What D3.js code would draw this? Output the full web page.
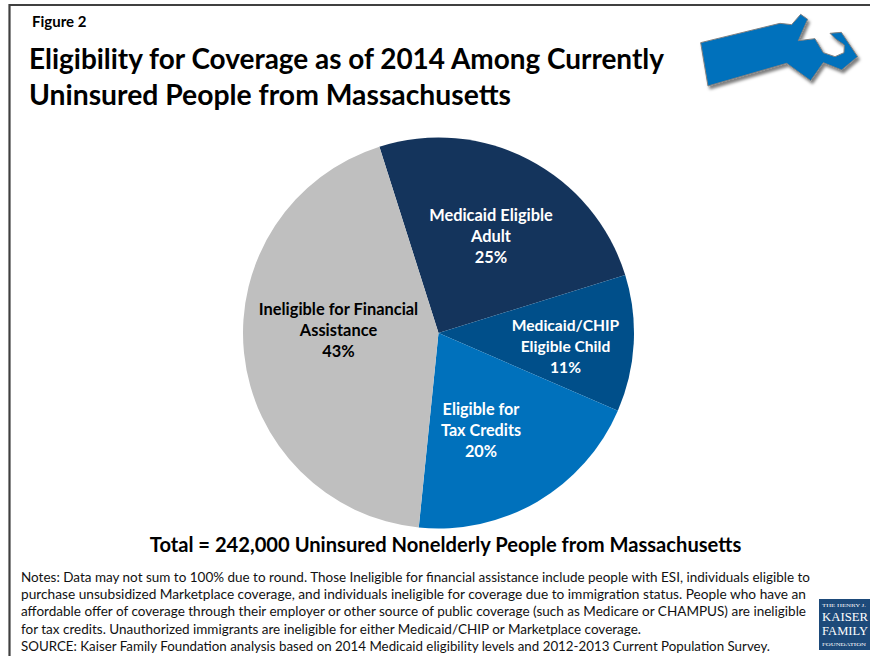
<!DOCTYPE html>
<html>
<head>
<meta charset="utf-8">
<script src="https://cdnjs.cloudflare.com/ajax/libs/d3/7.8.5/d3.min.js"></script>
<style>
  html, body { margin: 0; padding: 0; background: #fff; }
  svg { display: block; }
  text { font-family: Lato, "Open Sans", sans-serif; }
</style>
</head>
<body>
<script>
// values (printed labels are rounded)
var categories = ["Medicaid Eligible Adult", "Medicaid/CHIP Eligible Child", "Eligible for Tax Credits", "Ineligible for Financial Assistance"];
var values = [25.1, 11.3, 20.1, 43.5];
var printed = ["25%", "11%", "20%", "43%"];
var colors = ["#14345c", "#004f8a", "#0071bc", "#bfbfbf"];
var labelLines = [
  ["Medicaid Eligible", "Adult", "25%"],
  ["Medicaid/CHIP", "Eligible Child", "11%"],
  ["Eligible for", "Tax Credits", "20%"],
  ["Ineligible for Financial", "Assistance", "43%"]
];
var labelColors = ["#fff", "#fff", "#fff", "#000"];
var labelPos = [[491, 214.5], [565.5, 325], [481, 409], [338.5, 309]];
var labelSizes = [16.4, 15.6, 16.2, 16.4];
var titleLines = ["Eligibility for Coverage as of 2014 Among Currently", "Uninsured People from Massachusetts"];
var titleWidths = [635, 482];
var noteLines = [
  "Notes: Data may not sum to 100% due to round. Those Ineligible for financial assistance include people with ESI, individuals eligible to",
  "purchase unsubsidized Marketplace coverage, and individuals ineligible for coverage due to immigration status. People who have an",
  "affordable offer of coverage through their employer or other source of public coverage (such as Medicare or CHAMPUS) are ineligible",
  "for tax credits. Unauthorized immigrants are ineligible for either Medicaid/CHIP or Marketplace coverage.",
  "SOURCE: Kaiser Family Foundation analysis based on 2014 Medicaid eligibility levels and 2012-2013 Current Population Survey."
];
var noteWidths = [789, 785, 785, 620, 749];
var mapOutline = [[62,128],[300,70],[335,74],[362,43],[383,58],[355,122],[405,116],[430,158],[465,170],[492,158],[493,135],[468,118],[450,100],[484,97],[533,170],[485,210],[430,188],[392,242],[320,190],[84,258]];

var width = 870, height = 656;
var svg = d3.select("body").append("svg").attr("width", width).attr("height", height);

var defs = svg.append("defs");
var shadow = defs.append("filter").attr("id", "shadow")
  .attr("x", "-10%").attr("y", "-10%").attr("width", "125%").attr("height", "130%");
shadow.append("feDropShadow").attr("dx", 6).attr("dy", 9).attr("stdDeviation", 4)
  .attr("flood-color", "#000").attr("flood-opacity", 0.5);

// frame, only top and left sides
svg.append("path").attr("d", "M870,5H9.5V656").attr("fill", "none")
  .attr("stroke", "#404040").attr("stroke-width", 2.2);

svg.append("text").attr("x", 32).attr("y", 27).text("Figure 2")
  .attr("font-size", 15).attr("font-weight", 700);

svg.selectAll(".title").data(titleLines).enter().append("text")
  .attr("class", "title").attr("x", 29)
  .attr("y", function(d, i) { return 69 + i * 36; })
  .attr("font-size", 28).attr("font-weight", 700)
  .attr("textLength", function(d, i) { return titleWidths[i]; })
  .attr("lengthAdjust", "spacingAndGlyphs")
  .text(function(d) { return d; });

// state outline in the top right corner, traced in zoom coordinates
svg.append("g").attr("transform", "translate(680,0) scale(0.3333)")
  .append("polygon")
  .attr("points", mapOutline.join(" "))
  .attr("fill", "#0071bc").attr("stroke", "#7f7f7f").attr("stroke-width", 3)
  .attr("filter", "url(#shadow)");

// pie
var cx = 438.5, cy = 333, radius = 195.5;
var startAngle = -17.6 * Math.PI / 180;
var pie = d3.pie().sort(null).startAngle(startAngle).endAngle(startAngle + 2 * Math.PI);
var arc = d3.arc().innerRadius(0).outerRadius(radius);
var g = svg.append("g").attr("transform", "translate(" + cx + "," + cy + ")");
g.selectAll("path").data(pie(values)).enter().append("path")
  .attr("d", arc)
  .attr("fill", function(d, i) { return colors[i]; });

// slice labels
var labels = svg.selectAll(".lab").data(labelLines).enter().append("text")
  .attr("class", "lab")
  .attr("text-anchor", "middle")
  .attr("font-size", function(d, i) { return labelSizes[i]; })
  .attr("font-weight", 700)
  .attr("fill", function(d, i) { return labelColors[i]; });
labels.each(function(lines, i) {
  d3.select(this).selectAll("tspan").data(lines).enter().append("tspan")
    .attr("x", labelPos[i][0])
    .attr("y", function(d, j) { return labelPos[i][1] + 6 + j * 21; })
    .text(function(d) { return d; });
});

svg.append("text").attr("x", 445.5).attr("y", 552).attr("text-anchor", "middle")
  .attr("font-size", 20.15).attr("font-weight", 700)
  .text("Total = 242,000 Uninsured Nonelderly People from Massachusetts");

svg.selectAll(".note").data(noteLines).enter().append("text")
  .attr("class", "note").attr("x", 21)
  .attr("y", function(d, i) { return 582 + i * 17.2; })
  .attr("font-size", 13.4).attr("fill", "#111")
  .attr("textLength", function(d, i) { return noteWidths[i]; })
  .attr("lengthAdjust", "spacingAndGlyphs")
  .text(function(d) { return d; });

// logo
var logo = svg.append("g").attr("transform", "translate(819,599)");
logo.append("rect").attr("width", 51).attr("height", 51).attr("fill", "#1d4a7a");
var logoLines = [["THE HENRY J.", 8, 5, 44], ["KAISER", 22, 12, 46], ["FAMILY", 36, 12, 46], ["FOUNDATION", 47, 5, 44]];
logo.selectAll("text").data(logoLines).enter().append("text")
  .attr("x", 3)
  .attr("y", function(d) { return d[1]; })
  .attr("font-size", function(d) { return d[2]; })
  .attr("textLength", function(d) { return d[3]; })
  .attr("lengthAdjust", "spacingAndGlyphs")
  .attr("fill", "#fff")
  .style("font-family", "'Liberation Serif', serif")
  .text(function(d) { return d[0]; });
</script>
</body>
</html>
